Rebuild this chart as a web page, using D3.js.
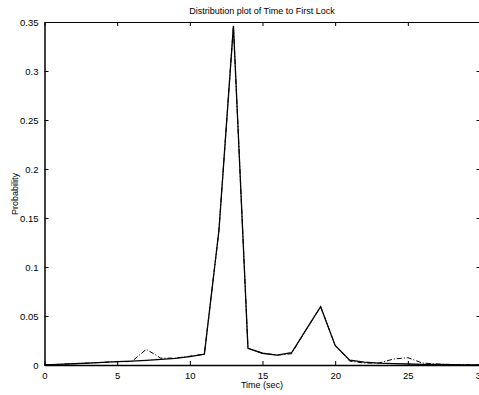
<!DOCTYPE html>
<html>
<head>
<style type="text/css">
body { margin: 0; background: #fff; }
text { font-family: "Liberation Sans", Arial, sans-serif; fill: #000; }
.axis path, .axis line { stroke: #000; }
.solid { stroke: #000; stroke-width: 1.3; fill: none; }
.dashdot { stroke: #000; stroke-width: 1; fill: none; stroke-dasharray: 5,2,1,2; }
</style>
<script src="https://d3js.org/d3.v7.min.js"></script>
</head>
<body>
<script type="text/javascript">
var width = 479;
var height = 395;

// time in seconds
var times = [0,1,2,3,4,5,6,7,8,9,10,11,12,13,14,15,16,17,18,19,20,21,22,23,24,25,26,27,28,29,30];
// two runs of the same measurement
var solidP = [0,0.0007,0.0013,0.002,0.0027,0.0034,0.004,0.0048,0.0057,0.0068,0.0085,0.011,0.137,0.346,0.017,0.012,0.010,0.0125,0.036,0.0595,0.020,0.005,0.003,0.002,0.0015,0.001,0.0007,0.0005,0.0003,0.0002,0];
var dashP  = [0,0.0007,0.0013,0.002,0.0027,0.0034,0.0035,0.016,0.007,0.007,0.009,0.011,0.137,0.346,0.017,0.012,0.010,0.0115,0.036,0.0595,0.020,0.004,0.002,0.002,0.006,0.0075,0.002,0.001,0.0005,0.0003,0];
var xTicks = [0,5,10,15,20,25,30];
var yTicks = [0,0.05,0.1,0.15,0.2,0.25,0.3,0.35];

var pLeft = 44.5, pRight = 480.5, pTop = 22, pBottom = 365;

var svg = d3.select("body").append("svg").attr("width", width).attr("height", height);

var x = d3.scaleLinear().domain([0, 30]).range([pLeft, pRight]);
var y = d3.scaleLinear().domain([0, 0.35]).range([pBottom, pTop]);

// inward ticks on all four sides like matlab
svg.append("g").attr("class", "axis").attr("transform", "translate(0," + pBottom + ")")
	.call(d3.axisBottom(x).tickValues(xTicks).tickSize(-4).tickPadding(7).tickSizeOuter(0).tickFormat(d3.format("d")))
	.call(function(g) { g.select(".domain").attr("stroke-width", 1.5); });
svg.append("g").attr("class", "axis").attr("transform", "translate(0," + pTop + ")")
	.call(d3.axisTop(x).tickValues(xTicks).tickSize(-4).tickSizeOuter(0).tickFormat(""));
svg.append("g").attr("class", "axis").attr("transform", "translate(" + pLeft + ",0)")
	.call(d3.axisLeft(y).tickValues(yTicks).tickSize(-4).tickPadding(6).tickSizeOuter(0).tickFormat(function(d) { return d === 0 ? "0" : String(+d.toFixed(2)); }))
	.call(function(g) { g.select(".domain").attr("stroke-width", 1.5); });
svg.append("g").attr("class", "axis").attr("transform", "translate(" + pRight + ",0)")
	.call(d3.axisRight(y).tickValues(yTicks).tickSize(-4).tickSizeOuter(0).tickFormat(""));

svg.selectAll(".axis text").style("font-family", "Liberation Sans, Arial, sans-serif").style("font-size", "9.5px");

var line = function(vals) {
	return d3.line().x(function(d, i) { return x(times[i]); }).y(function(d) { return y(d); })(vals);
};
svg.append("path").attr("class", "dashdot").attr("d", line(dashP));
svg.append("path").attr("class", "solid").attr("d", line(solidP));

svg.append("text").attr("x", 262).attr("y", 14).attr("text-anchor", "middle").style("font-size", "9px")
	.text("Distribution plot of Time to First Lock");
svg.append("text").attr("x", 262).attr("y", 388).attr("text-anchor", "middle").style("font-size", "9px")
	.text("Time (sec)");
svg.append("text").attr("transform", "translate(18,194) rotate(-90)").attr("text-anchor", "middle").style("font-size", "9px")
	.text("Probability");
</script>
</body>
</html>
